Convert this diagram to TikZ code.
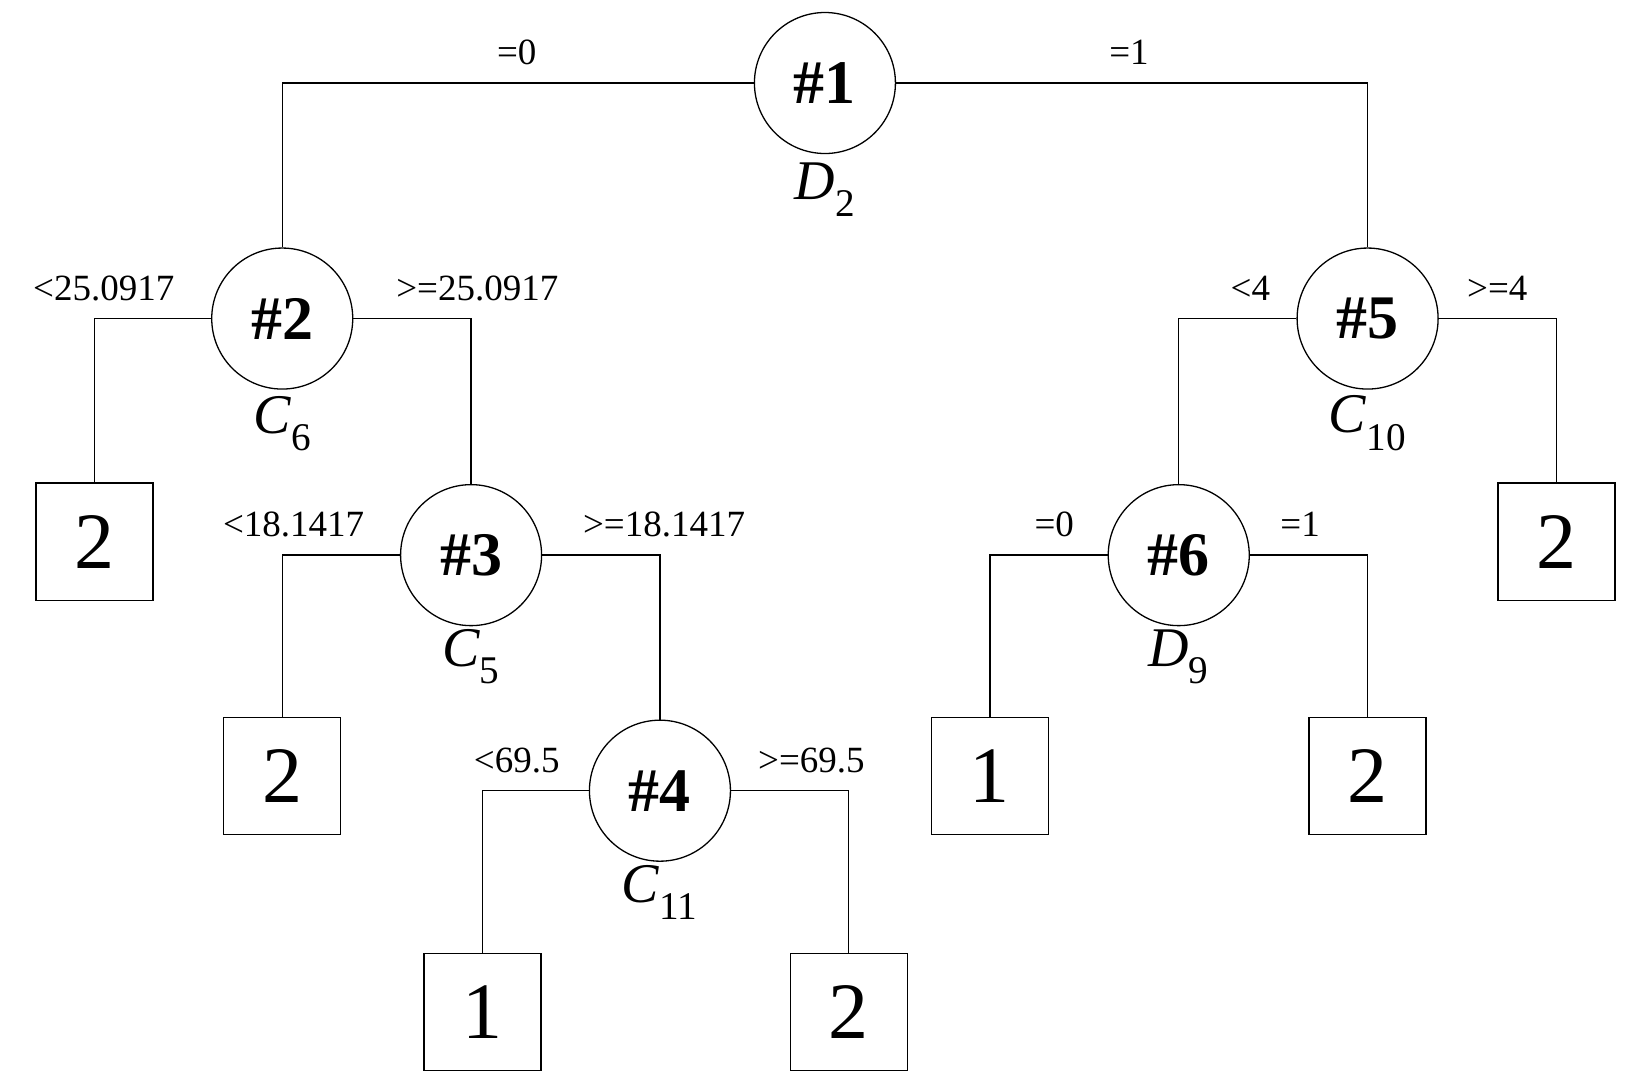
\documentclass[tikz,border=0pt]{standalone}
\usepackage{fontspec}
\setmainfont{Liberation Serif}
\begin{document}
\begin{tikzpicture}[x=1.0376pt,y=-1.0376pt,
 dec/.style={circle,draw,line width=1.3pt,minimum size=141pt,inner sep=0pt,font=\fontsize{62}{62}\selectfont\bfseries},
 leaf/.style={draw,line width=1.3pt,minimum size=117pt,inner sep=0pt,font=\fontsize{80}{80}\selectfont},
 lab/.style={font=\fontsize{37}{37}\selectfont},
 var/.style={font=\fontsize{56}{56}\selectfont},
 ln/.style={line width=1.3pt}]
\useasboundingbox (0,0) rectangle (1568,1048.6);
\node[dec] (n1) at (795,80) {\#1};
\node[dec] (n2) at (272,307) {\#2};
\node[dec] (n3) at (454,535) {\#3};
\node[dec] (n4) at (636,762) {\#4};
\node[dec] (n5) at (1318,307) {\#5};
\node[dec] (n6) at (1136,535) {\#6};
\node[leaf] (l1) at (91,522) {2};
\node[leaf] (l2) at (272,748) {2};
\node[leaf] (l3) at (465,975) {1};
\node[leaf] (l4) at (818,975) {2};
\node[leaf] (l5) at (954,748) {1};
\node[leaf] (l6) at (1318,748) {2};
\node[leaf] (l7) at (1500,522) {2};
\draw[ln] (n1.west) -| (n2.north);
\draw[ln] (n1.east) -| (n5.north);
\draw[ln] (n2.west) -| (l1.north);
\draw[ln] (n2.east) -| (n3.north);
\draw[ln] (n3.west) -| (l2.north);
\draw[ln] (n3.east) -| (n4.north);
\draw[ln] (n4.west) -| (l3.north);
\draw[ln] (n4.east) -| (l4.north);
\draw[ln] (n5.west) -| (n6.north);
\draw[ln] (n5.east) -| (l7.north);
\draw[ln] (n6.west) -| (l5.north);
\draw[ln] (n6.east) -| (l6.north);
\node[lab] (e1) at (498,50) {=0};
\node[lab] (e2) at (1088,50) {=1};
\node[lab] (e3) at (100,278) {<25.0917};
\node[lab] (e4) at (460,278) {>=25.0917};
\node[lab] (e5) at (283,505) {<18.1417};
\node[lab] (e6) at (640,505) {>=18.1417};
\node[lab] (e7) at (498,733) {<69.5};
\node[lab] (e8) at (782,733) {>=69.5};
\node[lab] (e9) at (1205,278) {<4};
\node[lab] (e10) at (1443,278) {>=4};
\node[lab] (e11) at (1016,505) {=0};
\node[lab] (e12) at (1253,505) {=1};
\node[var] (v1) at (795,183) {\textit{D}\textsubscript{2}};
\node[var] (v2) at (272,408) {\textit{C}\textsubscript{6}};
\node[var] (v3) at (454,633) {\textit{C}\textsubscript{5}};
\node[var] (v4) at (636,860) {\textit{C}\textsubscript{11}};
\node[var] (v5) at (1318,408) {\textit{C}\textsubscript{10}};
\node[var] (v6) at (1136,633) {\textit{D}\textsubscript{9}};
\end{tikzpicture}
\end{document}
